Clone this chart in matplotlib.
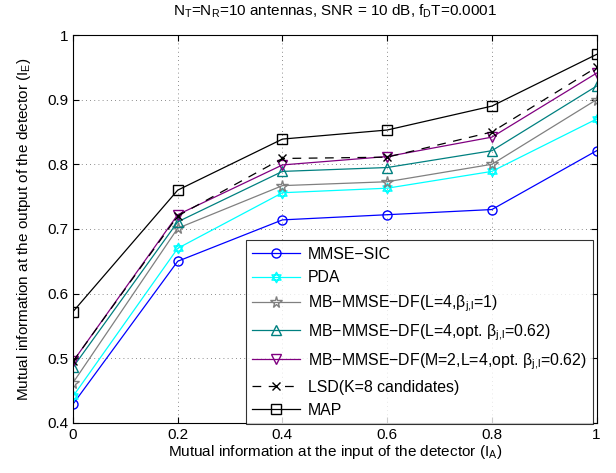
import matplotlib
matplotlib.use("Agg")
import matplotlib.pyplot as plt
from matplotlib.path import Path
from matplotlib.ticker import FuncFormatter
import numpy as np

plt.rcParams['font.family'] = ['Liberation Sans', 'DejaVu Sans']
plt.rcParams['mathtext.default'] = 'regular'

x_vals = [0, 0.2, 0.4, 0.6, 0.8, 1.0]
mmse_sic = [0.429, 0.650, 0.714, 0.722, 0.730, 0.821]
pda = [0.441, 0.670, 0.756, 0.763, 0.789, 0.870]
mb_beta1 = [0.462, 0.701, 0.767, 0.773, 0.800, 0.900]
mb_opt = [0.486, 0.711, 0.789, 0.795, 0.821, 0.921]
mb_m2 = [0.495, 0.722, 0.799, 0.812, 0.842, 0.941]
lsd = [0.495, 0.720, 0.809, 0.811, 0.850, 0.950]
map_det = [0.572, 0.760, 0.839, 0.853, 0.890, 0.970]

labels = [
    'MMSE\u2212SIC',
    'PDA',
    'MB\u2212MMSE\u2212DF(L=4,' + r'$\beta_{j{,}l}$' + '=1)',
    'MB\u2212MMSE\u2212DF(L=4,opt. ' + r'$\beta_{j{,}l}$' + '=0.62)',
    'MB\u2212MMSE\u2212DF(M=2,L=4,opt. ' + r'$\beta_{j{,}l}$' + '=0.62)',
    'LSD(K=8 candidates)',
    'MAP',
]

# hexagram marker (two overlapping triangles)
a = np.deg2rad([90, 210, 330])
b = np.deg2rad([270, 30, 150])
verts = [(np.cos(t), np.sin(t)) for t in a] + [(0, 0)] + [(np.cos(t), np.sin(t)) for t in b] + [(0, 0)]
codes = [Path.MOVETO, Path.LINETO, Path.LINETO, Path.CLOSEPOLY] * 2
hexagram = Path(verts, codes)

fig = plt.figure(figsize=(6.16, 4.73), dpi=100)
ax = fig.add_axes([0.1185, 0.106, 0.850, 0.820])

lw = 0.9
ms = 6.5
ax.plot(x_vals, mmse_sic, color=(0, 0, 1), marker='o', mfc='none', ms=ms, lw=lw, label=labels[0])
ax.plot(x_vals, pda, color=(0, 1, 1), marker=hexagram, mfc='none', ms=ms + 1, lw=lw, label=labels[1])
ax.plot(x_vals, mb_beta1, color=(0.5, 0.5, 0.5), marker='*', mfc='none', ms=ms + 2, lw=lw, label=labels[2])
ax.plot(x_vals, mb_opt, color=(0, 0.5, 0.5), marker='^', mfc='none', ms=ms + 1, lw=lw, label=labels[3])
ax.plot(x_vals, mb_m2, color=(0.5, 0, 0.5), marker='v', mfc='none', ms=ms + 1, lw=lw, label=labels[4])
ax.plot(x_vals, lsd, color='k', marker='x', ls=(0, (7, 6)), ms=ms - 0.5, lw=lw, label=labels[5])
ax.plot(x_vals, map_det, color='k', marker='s', mfc='none', ms=ms, lw=lw, label=labels[6])

ax.set_xlim(0, 1)
ax.set_ylim(0.4, 1)
ax.set_xticks(x_vals)
ax.set_yticks([0.4, 0.5, 0.6, 0.7, 0.8, 0.9, 1.0])
fmt = FuncFormatter(lambda v, p: '%g' % round(v, 3))
ax.xaxis.set_major_formatter(fmt)
ax.yaxis.set_major_formatter(fmt)
ax.tick_params(direction='in', top=True, right=True, labelsize=11, length=4)
ax.grid(True, ls=(0, (1, 4)), color='k', lw=0.6, alpha=0.6)
for s in ax.spines.values():
    s.set_linewidth(0.8)

ax.set_title(r'N$_T$=N$_R$=10 antennas, SNR = 10 dB, f$_D$T=0.0001', fontsize=11, pad=14)
ax.set_xlabel(r'Mutual information at the input of the detector (I$_A$)', fontsize=11, labelpad=1)
ax.set_ylabel(r'Mutual information at the output of the detector (I$_E$)', fontsize=11, labelpad=10)

leg = ax.legend(loc='lower right', bbox_to_anchor=(0.997, -0.01), fontsize=11.4, frameon=True,
                fancybox=False, edgecolor='k', handlelength=3.0, labelspacing=0.52,
                borderpad=0.4, handletextpad=0.5, borderaxespad=0.15)
leg.get_frame().set_linewidth(0.8)

fig.savefig('out.png', dpi=100)
